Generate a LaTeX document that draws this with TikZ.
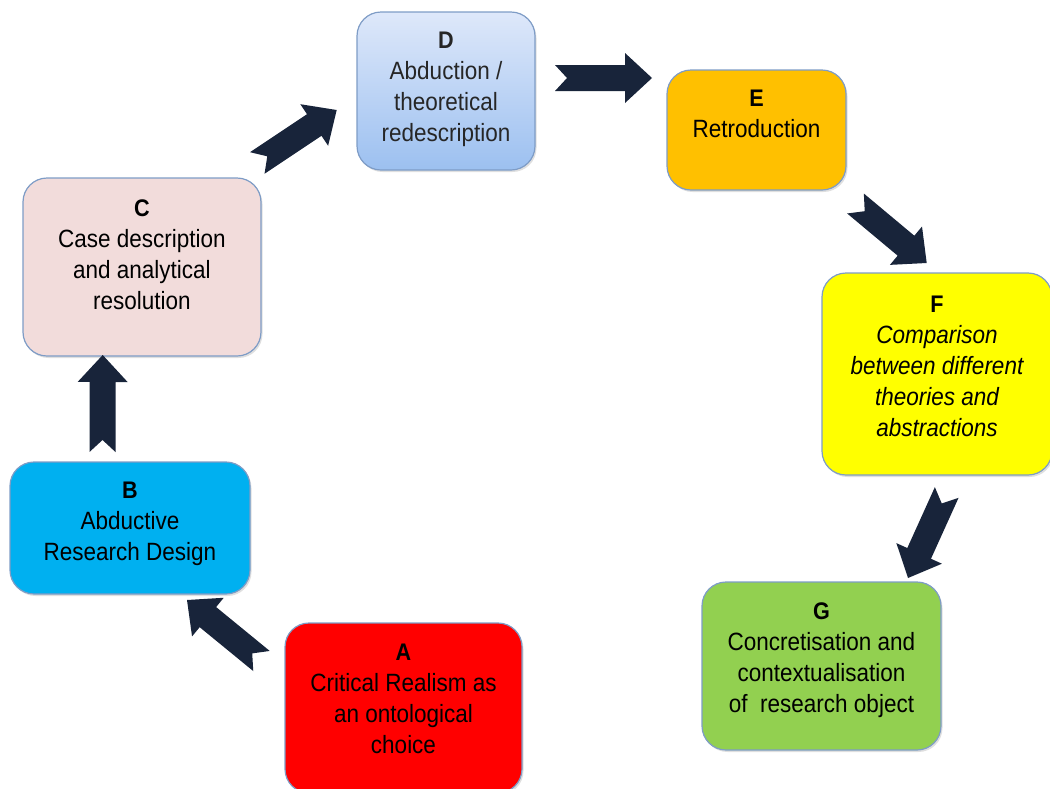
\documentclass[tikz,border=0pt]{standalone}
\usepackage{fontspec}
\setmainfont{Liberation Sans}[FakeStretch=0.9]
\usetikzlibrary{calc,shadows}
\definecolor{arrowc}{HTML}{18243A}
\definecolor{boxline}{HTML}{7E9CC6}
\definecolor{cA}{HTML}{FF0000}
\definecolor{cB}{HTML}{00B0F0}
\definecolor{cC}{HTML}{F2DCDB}
\definecolor{cDtop}{HTML}{DEE8FA}
\definecolor{cDbot}{HTML}{9CC0F0}
\definecolor{cE}{HTML}{FFC000}
\definecolor{cF}{HTML}{FFFF00}
\definecolor{cG}{HTML}{92D050}
\newcommand\ttl[1]{{\fontsize{24}{31}\selectfont\bfseries #1}}
\newcommand\notcharrow[3]{%
  \coordinate (#3q) at ($(#2)!27pt!(#1)$);
  \coordinate (#3n) at ($(#1)!12pt!(#2)$);
  \fill[arrowc] ($(#1)!13pt!90:(#2)$) -- (#3n) -- ($(#1)!13pt!-90:(#2)$)
    -- ($(#3q)!13pt!-90:(#2)$) -- ($(#3q)!25pt!-90:(#2)$) -- (#2)
    -- ($(#3q)!25pt!90:(#2)$) -- ($(#3q)!13pt!90:(#2)$) -- cycle;}
\begin{document}
\begin{tikzpicture}[x=1pt,y=-1pt,
  box/.style={draw=boxline, line width=1.2pt, rounded corners=24pt, inner sep=0pt,
    drop shadow={opacity=0.25, shadow xshift=1.5pt, shadow yshift=-2pt}},
  txt/.style={anchor=north, align=center, inner sep=0pt,
    font=\fontsize{25}{31}\selectfont}]
\useasboundingbox (0,0) rectangle (1050,788);
% boxes
\node[box, fill=cA, minimum width=237pt, minimum height=170pt] (A) at (403.5,708) {};
\node[box, fill=cB, minimum width=240pt, minimum height=132pt] (B) at (130,528) {};
\node[box, fill=cC, minimum width=238pt, minimum height=178pt] (C) at (142,267) {};
\node[box, top color=cDtop, bottom color=cDbot, minimum width=178pt, minimum height=158pt] (D) at (446,91) {};
\node[box, fill=cE, minimum width=179pt, minimum height=120pt] (E) at (756.5,130) {};
\node[box, fill=cF, minimum width=230pt, minimum height=202pt] (F) at (937,374) {};
\node[box, fill=cG, minimum width=239pt, minimum height=168pt] (G) at (821.5,666) {};
% texts
\node[txt] (At) at ([yshift=-21.5pt]A.north) {\ttl{A}\\Critical Realism as\\an ontological\\choice};
\node[txt] (Bt) at ([yshift=-20pt]B.north) {\ttl{B}\\Abductive\\Research Design};
\node[txt] (Ct) at ([yshift=-22pt]C.north) {\ttl{C}\\Case description\\and analytical\\resolution};
\node[txt, text=black!85] (Dt) at ([yshift=-20.5pt]D.north) {\ttl{D}\\Abduction /\\theoretical\\redescription};
\node[txt] (Et) at ([yshift=-20.5pt]E.north) {\ttl{E}\\Retroduction};
\node[txt] (Ft) at ([yshift=-23pt]F.north) {\ttl{F}\\\itshape Comparison\\\itshape between different\\\itshape theories and\\\itshape abstractions};
\node[txt] (Gt) at ([yshift=-21pt]G.north) {\ttl{G}\\Concretisation and\\contextualisation\\of\ \ research object};
% arrow end points
\coordinate (ab1) at (261.5,661);  \coordinate (ab2) at (187,600);
\coordinate (bc1) at (102.5,452);  \coordinate (bc2) at (102.7,355);
\coordinate (cd1) at (257.3,163);  \coordinate (cd2) at (336.7,110);
\coordinate (de1) at (555,78);     \coordinate (de2) at (652,78);
\coordinate (ef1) at (855.5,203.5);\coordinate (ef2) at (926.7,263);
\coordinate (fg1) at (946.7,492.5);\coordinate (fg2) at (908,578);
\notcharrow{ab1}{ab2}{ab}
\notcharrow{bc1}{bc2}{bc}
\notcharrow{cd1}{cd2}{cd}
\notcharrow{de1}{de2}{de}
\notcharrow{ef1}{ef2}{ef}
\notcharrow{fg1}{fg2}{fg}
\end{tikzpicture}
\end{document}
